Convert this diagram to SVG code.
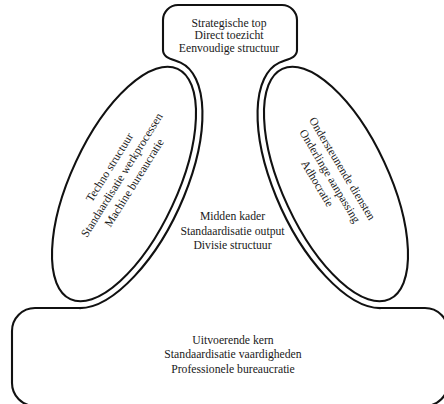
<svg xmlns="http://www.w3.org/2000/svg" width="444" height="404" viewBox="0 0 444 404">
<style>
.ln{fill:none;stroke:#111;stroke-width:2.1;stroke-linejoin:round;stroke-linecap:round}
.t{font-family:"Liberation Serif","Times New Roman",serif;font-size:11.7px;fill:#1a1a1a;text-anchor:middle}
</style>
<rect width="444" height="404" fill="#fff"/>
<g id="strategische-top">
<path class="ln" d="M163,50 L163,20 A15,15 0 0 1 178,5 L282,5 A15,15 0 0 1 297,20 L297,50"/>
<text class="t" x="229" y="26.5">Strategische top</text>
<text class="t" x="229" y="39">Direct toezicht</text>
<text class="t" x="229" y="51.5">Eenvoudige structuur</text>
</g>
<g id="midden-kader">
<path class="ln" d="M163,50 C163,58 172,59 180.6,62.6 A134,60 -65 0 1 79.7,308.1"/>
<path class="ln" d="M297,50 C297,58 288,59 279.4,62.6 A134,60 65 0 0 380.3,308.1"/>
<text class="t" x="232.5" y="220">Midden kader</text>
<text class="t" x="232.5" y="234.5">Standaardisatie output</text>
<text class="t" x="232.5" y="249">Divisie structuur</text>
</g>
<g id="technostructuur">
<ellipse class="ln" cx="124" cy="184" rx="127" ry="53" transform="rotate(-65 124 184)"/>
<g transform="translate(121.7,175) rotate(-58)">
<text class="t" x="0" y="-10.5">Techno structuur</text>
<text class="t" x="0" y="4">Standaardisatie werkprocessen</text>
<text class="t" x="0" y="18.5">Machine bureaucratie</text>
</g>
</g>
<g id="ondersteunende-diensten">
<ellipse class="ln" cx="336" cy="184" rx="127" ry="53" transform="rotate(65 336 184)"/>
<g transform="translate(330,176) rotate(59)">
<text class="t" x="0" y="-10.5">Ondersteunende diensten</text>
<text class="t" x="0" y="4">Onderlinge aanpassing</text>
<text class="t" x="0" y="18.5">Adhocratie</text>
</g>
</g>
<g id="uitvoerende-kern">
<path class="ln" d="M79.7,308 L35,308 A23,23 0 0 0 12,331 L12,383 A23,23 0 0 0 35,406 L425,406 A23,23 0 0 0 448,383 L448,331 A23,23 0 0 0 425,308 L380.3,308"/>
<text class="t" x="233" y="343.5">Uitvoerende kern</text>
<text class="t" x="233" y="358">Standaardisatie vaardigheden</text>
<text class="t" x="233" y="372.5">Professionele bureaucratie</text>
</g>
<g id="connectors"/>
</svg>
